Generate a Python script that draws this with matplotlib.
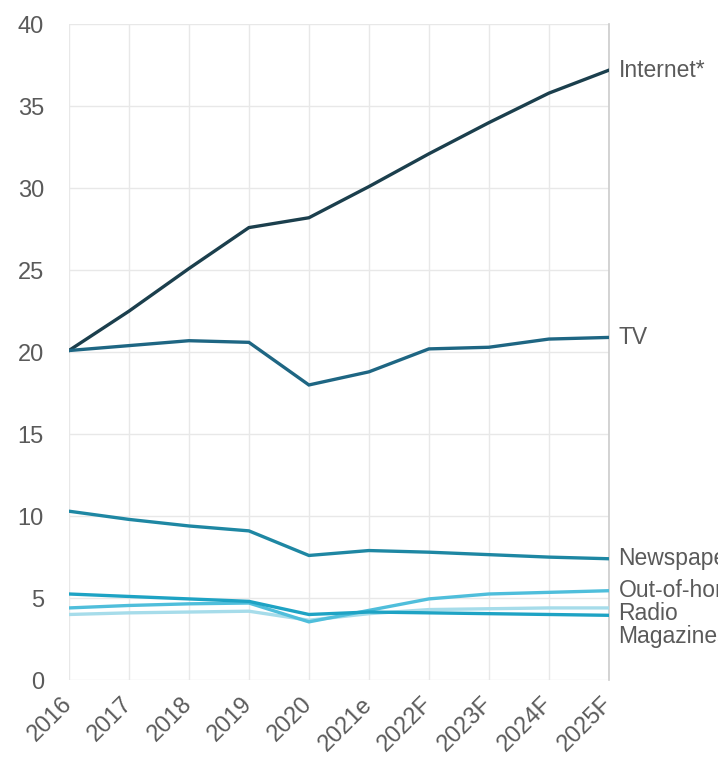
import matplotlib
matplotlib.use("Agg")
import matplotlib.pyplot as plt

plt.rcParams['font.family'] = ['Liberation Sans', 'DejaVu Sans']

years = ["2016", "2017", "2018", "2019", "2020", "2021e", "2022F", "2023F", "2024F", "2025F"]

internet = [20.1, 22.5, 25.1, 27.6, 28.2, 30.1, 32.1, 34.0, 35.8, 37.2]
tv = [20.1, 20.4, 20.7, 20.6, 18.0, 18.8, 20.2, 20.3, 20.8, 20.9]
newspapers = [10.3, 9.8, 9.4, 9.1, 7.6, 7.9, 7.8, 7.65, 7.5, 7.4]
out_of_home = [4.4, 4.55, 4.65, 4.7, 3.55, 4.25, 4.95, 5.25, 5.35, 5.45]
radio = [4.0, 4.1, 4.15, 4.2, 3.65, 4.05, 4.3, 4.35, 4.4, 4.4]
magazines = [5.25, 5.1, 4.95, 4.8, 4.0, 4.15, 4.1, 4.05, 4.0, 3.95]

series = [
    ("Internet*", internet, "#1b3f4d"),
    ("TV", tv, "#1e6683"),
    ("Newspapers", newspapers, "#1e87a3"),
    ("Radio", radio, "#a6dcea"),
    ("Out-of-home", out_of_home, "#4fbedb"),
    ("Magazines", magazines, "#1ea3c4"),
]

fig = plt.figure(figsize=(7.18, 7.59), dpi=100)
ax = fig.add_axes([0.096, 0.104, 0.752, 0.864])

x = list(range(len(years)))
for name, vals, col in series:
    ax.plot(x, vals, color=col, lw=2.4, solid_joinstyle='miter', zorder=3)

# end labels, pushed apart where they would overlap
ends = sorted([(vals[-1], name) for name, vals, col in series], reverse=True)
prev = None
for val, name in ends:
    ypos = val if prev is None else min(val, prev - 1.4)
    prev = ypos
    ax.annotate(name, xy=(x[-1], ypos), xytext=(7, 0), textcoords='offset points',
                va='center', ha='left', fontsize=16.5, color='#5a5a5a',
                annotation_clip=False)

ax.set_xlim(0, len(years) - 1)
ax.set_ylim(0, 40)
ax.set_yticks(range(0, 41, 5))
ax.set_xticks(x)
ax.set_xticklabels(years, rotation=45, ha='right', va='center', rotation_mode='anchor')
ax.tick_params(axis='y', length=0, pad=18, labelsize=17, labelcolor='#5a5a5a')
ax.tick_params(axis='x', length=0, pad=15, labelsize=17, labelcolor='#5a5a5a')

ax.grid(True, color='#e8e8e8', lw=1)
ax.set_axisbelow(True)
for s in ['top', 'left', 'bottom']:
    ax.spines[s].set_visible(False)
ax.spines['right'].set_color('#cccccc')
ax.spines['right'].set_linewidth(1.2)

fig.savefig("out.png", dpi=100)
